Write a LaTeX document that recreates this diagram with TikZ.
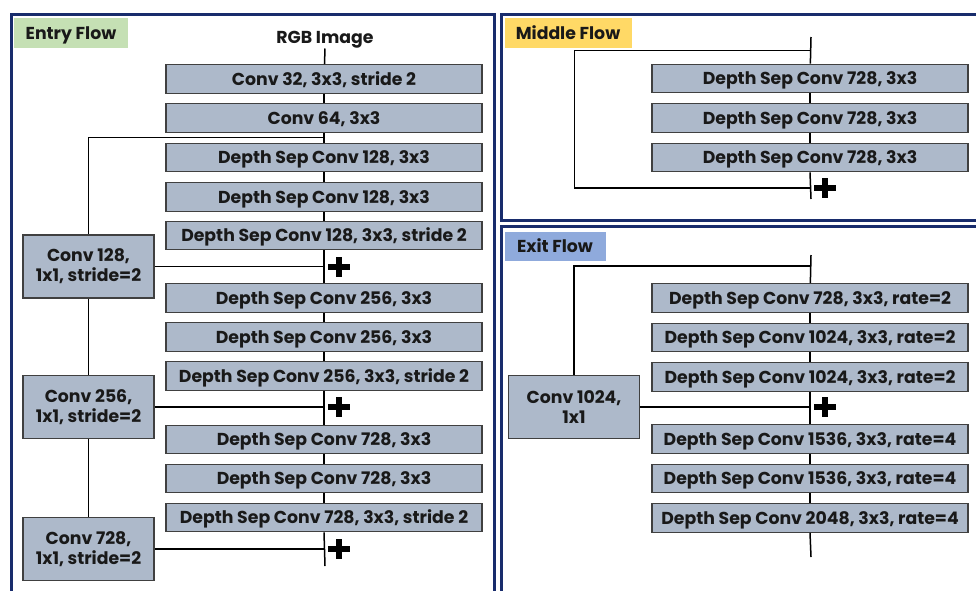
\documentclass[tikz,border=0pt]{standalone}
\usepackage{fontspec}
\setmainfont{Poppins}
\definecolor{panelnavy}{RGB}{24,44,108}
\definecolor{boxfill}{RGB}{173,185,202}
\definecolor{boxline}{RGB}{64,64,64}
\definecolor{entrygreen}{RGB}{197,224,180}
\definecolor{middleyellow}{RGB}{255,217,102}
\definecolor{exitblue}{RGB}{143,170,220}
\tikzset{
  panel/.style={draw=panelnavy, line width=3pt, fill=white},
  tag/.style={inner sep=0pt, font=\fontsize{17.3}{20}\selectfont\bfseries, text=black!90,
    text height=12pt, text depth=0pt},
  layer/.style={draw=boxline, line width=1.3pt, fill=boxfill, minimum width=316pt,
    minimum height=28.5pt, inner sep=0pt, font=\fontsize{17.3}{20}\selectfont\bfseries, text=black!90,
    text height=12pt, text depth=0pt},
  proj/.style={draw=boxline, line width=1.3pt, fill=boxfill, minimum width=131pt,
    minimum height=63pt, inner sep=0pt, align=center,
    font=\fontsize{17.3}{20}\selectfont\bfseries, text=black!90},
  link/.style={draw=black, line width=1.5pt},
  plussign/.style={minimum size=22pt, inner sep=0pt, path picture={
    \fill[black] ([xshift=-11pt,yshift=-3pt]path picture bounding box.center) rectangle ++(22pt,6pt);
    \fill[black] ([xshift=-3pt,yshift=-10pt]path picture bounding box.center) rectangle ++(6pt,20pt);}}
}
\begin{document}
\begin{tikzpicture}[x=1pt,y=-1pt]
\useasboundingbox (0,0) rectangle (976,590);
\clip (0,0) rectangle (976,590);
\fill[white] (0,0) rectangle (976,590);

% panels
\draw[panel] (11,14.5) rectangle (494.5,610);
\draw[panel] (501,14.5) rectangle (990,220);
\draw[panel] (501,226.5) rectangle (990,610);

% panel titles
\node[tag, fill=entrygreen, minimum width=114pt, minimum height=30pt] (tEntry) at (71,33) {Entry Flow};
\node[tag, fill=middleyellow, minimum width=127pt, minimum height=30pt] (tMiddle) at (568,33) {Middle Flow};
\node[tag, fill=exitblue, minimum width=101pt, minimum height=29pt] (tExit) at (555,246) {Exit Flow};

% ---------------- entry flow ----------------
\node[tag] (rgb) at (325,37) {RGB Image};
\node[layer] (e1) at (324,79) {Conv 32, 3x3, stride 2};
\node[layer] (e2) at (324,118) {Conv 64, 3x3};
\node[layer] (e3) at (324,157.5) {Depth Sep Conv 128, 3x3};
\node[layer] (e4) at (324,197) {Depth Sep Conv 128, 3x3};
\node[layer] (e5) at (324,235.5) {Depth Sep Conv 128, 3x3, stride 2};
\node[layer] (e6) at (324,298) {Depth Sep Conv 256, 3x3};
\node[layer] (e7) at (324,337) {Depth Sep Conv 256, 3x3};
\node[layer] (e8) at (324,376) {Depth Sep Conv 256, 3x3, stride 2};
\node[layer] (e9) at (324,439.5) {Depth Sep Conv 728, 3x3};
\node[layer] (e10) at (324,478.5) {Depth Sep Conv 728, 3x3};
\node[layer] (e11) at (324,517.5) {Depth Sep Conv 728, 3x3, stride 2};

\node[proj] (p1) at (88.5,266.5) {Conv 128,\\1x1, stride=2};
\node[proj] (p2) at (88.5,407) {Conv 256,\\1x1, stride=2};
\node[proj] (p3) at (88.5,549) {Conv 728,\\1x1, stride=2};

\coordinate (es0) at (325,48.5);
\coordinate (es1) at (325,137.5);
\coordinate (ej1) at (325,266.5);
\coordinate (ej2) at (325,407);
\coordinate (ej3) at (325,549);
\coordinate (eend) at (325,566);

\draw[link] (es0) -- (e1);
\draw[link] (e1) -- (e2);
\draw[link] (e2) -- (e3);
\draw[link] (e3) -- (e4);
\draw[link] (e4) -- (e5);
\draw[link] (e5) -- (e6);
\draw[link] (e6) -- (e7);
\draw[link] (e7) -- (e8);
\draw[link] (e8) -- (e9);
\draw[link] (e9) -- (e10);
\draw[link] (e10) -- (e11);
\draw[link] (e11.south) -- (eend);
\draw[link] (es1) -| (p1.north);
\draw[link] (p1) -- (p2);
\draw[link] (p2) -- (p3);
\draw[link] (p1.east) -- (ej1);
\draw[link] (p2.east) -- (ej2);
\draw[link] (p3.east) -- (ej3);

\node[plussign] (add1) at (339,267) {};
\node[plussign] (add2) at (339,407) {};
\node[plussign] (add3) at (339,549) {};

% ---------------- middle flow ----------------
\node[layer] (m1) at (810,78.5) {Depth Sep Conv 728, 3x3};
\node[layer] (m2) at (810,118) {Depth Sep Conv 728, 3x3};
\node[layer] (m3) at (810,157.5) {Depth Sep Conv 728, 3x3};

\coordinate (mtop) at (811,37);
\coordinate (ms) at (811,50.5);
\coordinate (ml1) at (574.5,50.5);
\coordinate (ml2) at (574.5,188);
\coordinate (mj) at (811,188);
\coordinate (mend) at (811,199);

\draw[link] (mtop) -- (m1);
\draw[link] (m1) -- (m2);
\draw[link] (m2) -- (m3);
\draw[link] (m3.south) -- (mend);
\draw[link] (ms) -- (ml1) -- (ml2) -- (mj);
\node[plussign] (add4) at (825,188) {};

% ---------------- exit flow ----------------
\node[layer] (x1) at (810,298) {Depth Sep Conv 728, 3x3, rate=2};
\node[layer] (x2) at (810,337.5) {Depth Sep Conv 1024, 3x3, rate=2};
\node[layer] (x3) at (810,377) {Depth Sep Conv 1024, 3x3, rate=2};
\node[layer] (x4) at (810,439) {Depth Sep Conv 1536, 3x3, rate=4};
\node[layer] (x5) at (810,478.5) {Depth Sep Conv 1536, 3x3, rate=4};
\node[layer] (x6) at (810,518) {Depth Sep Conv 2048, 3x3, rate=4};

\node[proj] (p4) at (574,407) {Conv 1024,\\1x1};

\coordinate (xtop) at (811,255);
\coordinate (xs) at (811,266);
\coordinate (xj) at (811,407);
\coordinate (xend) at (811,557);

\draw[link] (xtop) -- (x1);
\draw[link] (x1) -- (x2);
\draw[link] (x2) -- (x3);
\draw[link] (x3) -- (x4);
\draw[link] (x4) -- (x5);
\draw[link] (x5) -- (x6);
\draw[link] (x6.south) -- (xend);
\draw[link] (xs) -| (p4.north);
\draw[link] (p4.east) -- (xj);
\node[plussign] (add5) at (825,407) {};
\end{tikzpicture}
\end{document}
